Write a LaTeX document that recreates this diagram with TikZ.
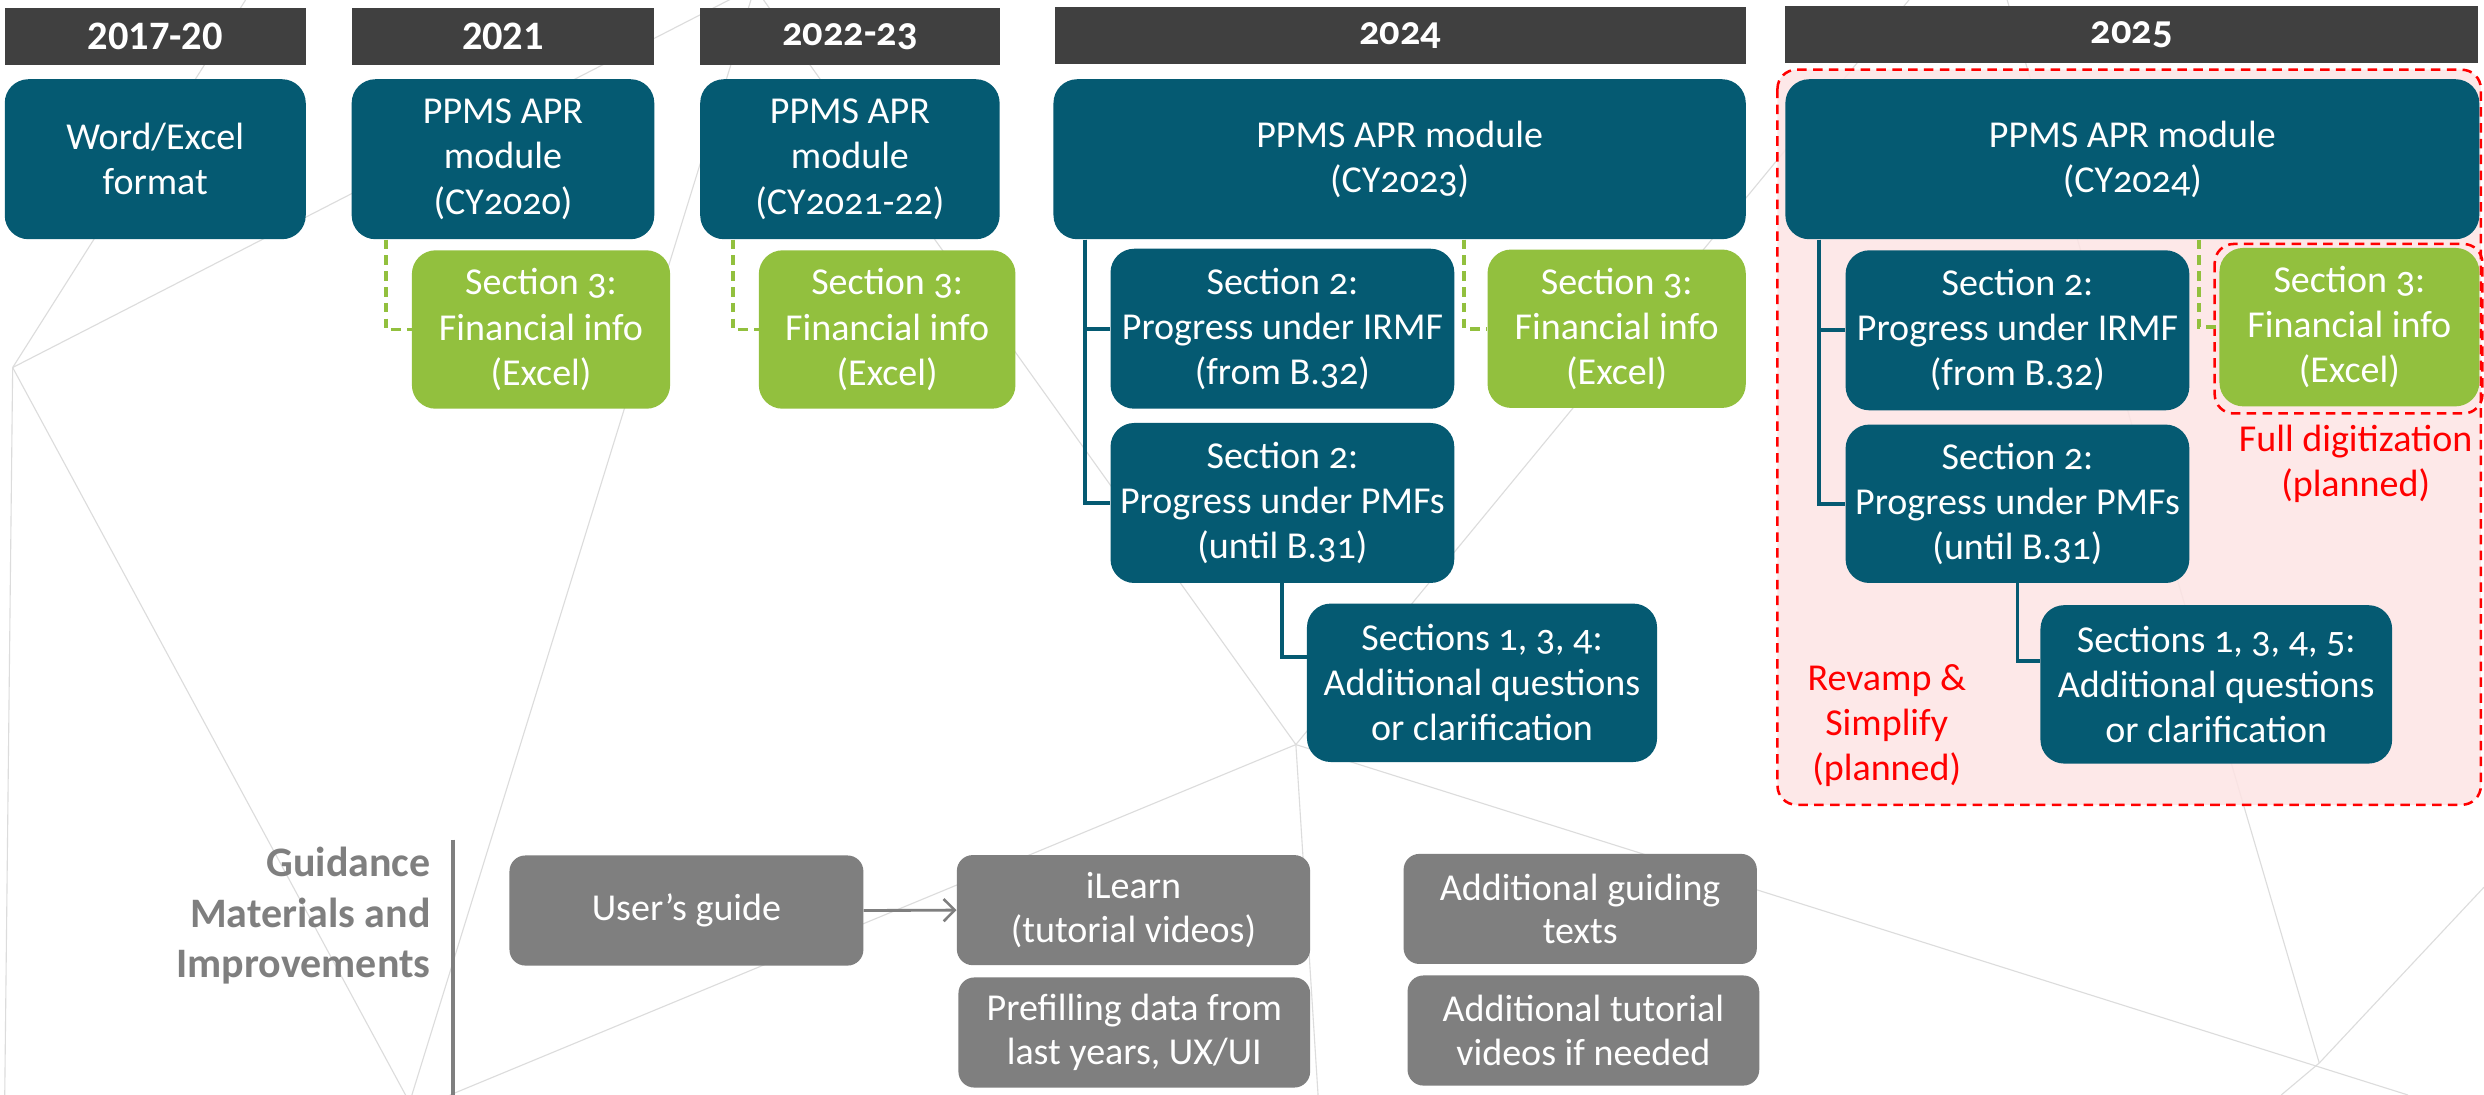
\documentclass[tikz,border=0pt]{standalone}
\usepackage{fontspec}
\setmainfont{Carlito}[Numbers=OldStyle]
\newfontfamily\lnfont{Carlito}[Numbers=Lining]
\usetikzlibrary{arrows.meta}
\definecolor{appteal}{RGB}{5,90,114}
\definecolor{appgreen}{RGB}{146,192,62}
\definecolor{hdrgray}{RGB}{64,64,64}
\definecolor{boxgray}{RGB}{127,127,127}
\definecolor{bgline}{RGB}{220,220,220}
\definecolor{pinkbg}{RGB}{253,228,228}
\definecolor{planred}{RGB}{255,0,0}
\begin{document}
\begin{tikzpicture}[x=1pt,y=-1pt,
  hdr/.style={fill=hdrgray,text=white,font=\bfseries\fontsize{25.5}{28}\selectfont,minimum height=36pt,inner sep=0pt,anchor=center},
  hdrln/.style={hdr,font=\lnfont\bfseries\fontsize{25.5}{28}\selectfont},
  tbox/.style={fill=appteal,text=white,rounded corners=15pt,align=center,font=\fontsize{24}{28.5}\selectfont,inner sep=0pt,minimum height=101pt},
  gbox/.style={tbox,fill=appgreen,minimum height=100pt},
  graybox/.style={fill=boxgray,text=white,rounded corners=10pt,align=center,font=\fontsize{24}{27.5}\selectfont,inner sep=0pt,minimum height=69.5pt},
  tline/.style={draw=appteal,line width=2.5pt},
  gline/.style={draw=appgreen,line width=2.5pt,dash pattern=on 6pt off 4pt},
  reddash/.style={draw=planred,line width=1.6pt,dash pattern=on 6pt off 4pt,rounded corners=12pt},
  redtext/.style={text=planred,align=center,font=\fontsize{24}{28.5}\selectfont},
  bgl/.style={draw=bgline,line width=0.7pt},
  arrowline/.style={draw=boxgray,line width=1.8pt,-{Straight Barb[length=7pt,width=14pt,line width=1.6pt]}}
]
\clip (0,0) rectangle (1568,691.2);
\fill[white] (0,0) rectangle (1568,691.2);
% background network
\draw[bgl] (8,232) -- (155,0);
\draw[bgl] (8,232) -- (468,-4);
\draw[bgl] (8,232) -- (256,691.2);
\draw[bgl] (8,232) -- (3,691.2);
\draw[bgl] (474,0) -- (260,691.2);
\draw[bgl] (818,470) -- (482,0);
\draw[bgl] (818,470) -- (1205,0);
\draw[bgl] (818,470) -- (284,691.2);
\draw[bgl] (818,470) -- (832,691.2);
\draw[bgl] (818,470) -- (1520,691.2);
\draw[bgl] (1464,671) -- (1267,0);
\draw[bgl] (1464,671) -- (1568,560);
\draw[bgl] (1464,671) -- (1440,691.2);
% planned region
\path[fill=pinkbg,fill opacity=0.85] (1122,44) [rounded corners=12pt] rectangle (1566,508);
\draw[reddash] (1122,44) rectangle (1566,508);
% headers
\node[hdrln,minimum width=190pt] (h1) at (98,23) {2017-20};
\node[hdrln,minimum width=191pt] (h2) at (317.5,23) {2021};
\node[hdr,minimum width=189pt] (h3) at (536.5,23) {2022-23};
\node[hdr,minimum width=436pt] (h4) at (884,22.5) {2024};
\node[hdr,minimum width=437pt] (h5) at (1345.5,22) {2025};
% top boxes
\node[tbox,minimum width=190pt] (b1) at (98,100.5) {Word/Excel\\format};
\node[tbox,minimum width=191pt] (b2) at (317.5,100.5) {PPMS APR\\module\\(CY2020)};
\node[tbox,minimum width=189pt] (b3) at (536.5,100.5) {PPMS APR\\module\\(CY2021-22)};
\node[tbox,minimum width=437pt] (b4) at (883.5,100.5) {PPMS APR module\\(CY2023)};
\node[tbox,minimum width=438pt] (b5) at (1346,100.5) {PPMS APR module\\(CY2024)};
% green boxes
\node[gbox,minimum width=163pt] (g2) at (341.5,208) {Section 3:\\Financial info\\(Excel)};
\node[gbox,minimum width=162pt] (g3) at (560,208) {Section 3:\\Financial info\\(Excel)};
\node[gbox,minimum width=163pt] (g4) at (1020.5,207.5) {Section 3:\\Financial info\\(Excel)};
\node[gbox,minimum width=164pt] (g5) at (1483,206.5) {Section 3:\\Financial info\\(Excel)};
\draw[reddash] (1398,154) rectangle (1567,261);
% second level teal
\node[tbox,minimum width=217pt] (s4a) at (809.5,207.5) {Section 2:\\Progress under IRMF\\(from B.32)};
\node[tbox,minimum width=217pt] (s4b) at (809.5,317.5) {Section 2:\\Progress under PMFs\\(until B.31)};
\node[tbox,minimum width=221pt,minimum height=100pt] (s4c) at (935.5,431) {Sections 1, 3, 4:\\Additional questions\\or clarification};
\node[tbox,minimum width=217pt] (s5a) at (1273.5,208.5) {Section 2:\\Progress under IRMF\\(from B.32)};
\node[tbox,minimum width=217pt,minimum height=100pt] (s5b) at (1273.5,318) {Section 2:\\Progress under PMFs\\(until B.31)};
\node[tbox,minimum width=222pt,minimum height=100pt] (s5c) at (1399,432) {Sections 1, 3, 4, 5:\\Additional questions\\or clarification};
% connectors
\draw[gline] ([xshift=22pt]b2.south west) |- (g2.west);
\draw[gline] ([xshift=21pt]b3.south west) |- (g3.west);
\draw[tline] ([xshift=20pt]b4.south west) |- (s4a.west);
\draw[tline] ([xshift=20pt]b4.south west) |- (s4b.west);
\draw[gline] ([xshift=259.5pt]b4.south west) |- (g4.west);
\draw[tline] (s4b.south) |- ([yshift=16pt]s4c.west);
\draw[tline] ([xshift=21.5pt]b5.south west) |- (s5a.west);
\draw[tline] ([xshift=21.5pt]b5.south west) |- (s5b.west);
\draw[gline] ([xshift=261pt]b5.south west) |- (g5.west);
\draw[tline] (s5b.south) |- ([yshift=15pt]s5c.west);
% red notes
\node[redtext] (fd) at (1487,293) {Full digitization\\(planned)};
\node[redtext] (rs) at (1191,458) {Revamp \&\\Simplify\\(planned)};
% guidance section
\node[anchor=east,align=right,text=boxgray,font=\bfseries\fontsize{26.5}{32}\selectfont,inner sep=0pt] (guide) at (272,578) {Guidance\\Materials and\\Improvements};
\coordinate (bartop) at (286,530);
\coordinate (barbot) at (286,691.2);
\draw[draw=boxgray,line width=3pt] (bartop) -- (barbot);
\node[graybox,minimum width=223.4pt] (u1) at (433.3,574.75) {User’s guide};
\node[graybox,minimum width=223pt] (u2) at (715.5,574.5) {iLearn\\(tutorial videos)};
\node[graybox,minimum width=222pt] (u3) at (716,651.75) {Prefilling data from\\last years, UX/UI};
\node[graybox,minimum width=223pt] (u4) at (997.5,573.75) {Additional guiding\\texts};
\node[graybox,minimum width=222pt] (u5) at (999.5,650.5) {Additional tutorial\\videos if needed};
\draw[arrowline] (u1.east) -- (u2.west);
\end{tikzpicture}
\end{document}
